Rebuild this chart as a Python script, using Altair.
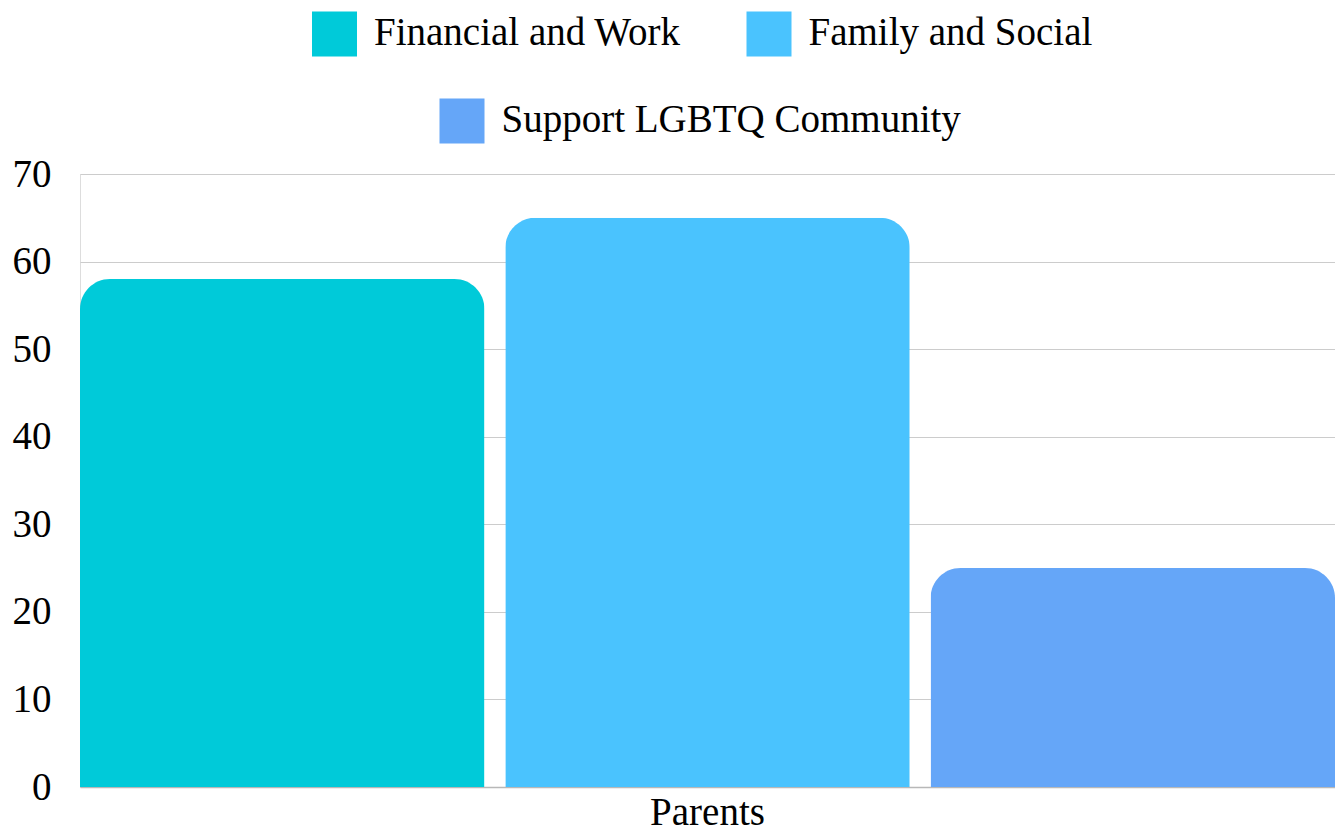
import altair as alt
import pandas as pd

groups = ["Parents", "Parents", "Parents"]
series = ["Financial and Work", "Family and Social", "Support LGBTQ Community"]
values = [58, 65, 25]
colors = ["#00CAD9", "#4AC3FE", "#65A6F8"]

FONT = "Liberation Serif"
FS = 39

df = pd.DataFrame({"group": groups, "series": series, "value": values})

bars = alt.Chart(df).mark_bar(
    cornerRadiusTopLeft=30, cornerRadiusTopRight=30, clip=False
).encode(
    x=alt.X("group:N", title=None,
            scale=alt.Scale(paddingInner=0, paddingOuter=0),
            axis=alt.Axis(labelAngle=0, labelFont=FONT, labelFontSize=FS,
                          labelColor="#000000", labelPadding=6, ticks=False,
                          domainColor="#b8b8b8", domainWidth=1.5)),
    xOffset=alt.XOffset("series:N", sort=series,
                        scale=alt.Scale(paddingInner=0.049, paddingOuter=0)),
    y=alt.Y("value:Q", title=None,
            scale=alt.Scale(domain=[0, 70]),
            axis=alt.Axis(values=[0, 10, 20, 30, 40, 50, 60, 70], domain=False,
                          ticks=False, labelFont=FONT, labelFontSize=FS,
                          labelColor="#000000", labelPadding=29,
                          gridColor="#cccccc", gridWidth=1.2)),
    color=alt.Color("series:N", sort=series,
                    scale=alt.Scale(domain=series, range=colors), legend=None),
)

# manual legend (two centered rows)
legend_pos = [(254.5, -140), (689, -140), (382, -53)]
layers = [bars]
for name, col, (lx, ly) in zip(series, colors, legend_pos):
    one = pd.DataFrame({"series": [name]})
    sq = alt.Chart(one).mark_square(size=2025, opacity=1, filled=True, color=col).encode(
        x=alt.value(lx), y=alt.value(ly))
    tx = alt.Chart(one).mark_text(font=FONT, fontSize=FS, align="left",
                                  baseline="middle", color="#000000").encode(
        x=alt.value(lx + 39.5), y=alt.value(ly - 1), text="series:N")
    layers += [sq, tx]

chart = alt.layer(*layers).properties(
    width=1255, height=613,
    padding={"left": 72, "top": 166, "right": 0, "bottom": 44},
    autosize=alt.AutoSizeParams(type="none"),
).configure_view(stroke=None).configure(background="#ffffff")

chart.save("out.html", embed_options={"renderer": "svg", "actions": False})
